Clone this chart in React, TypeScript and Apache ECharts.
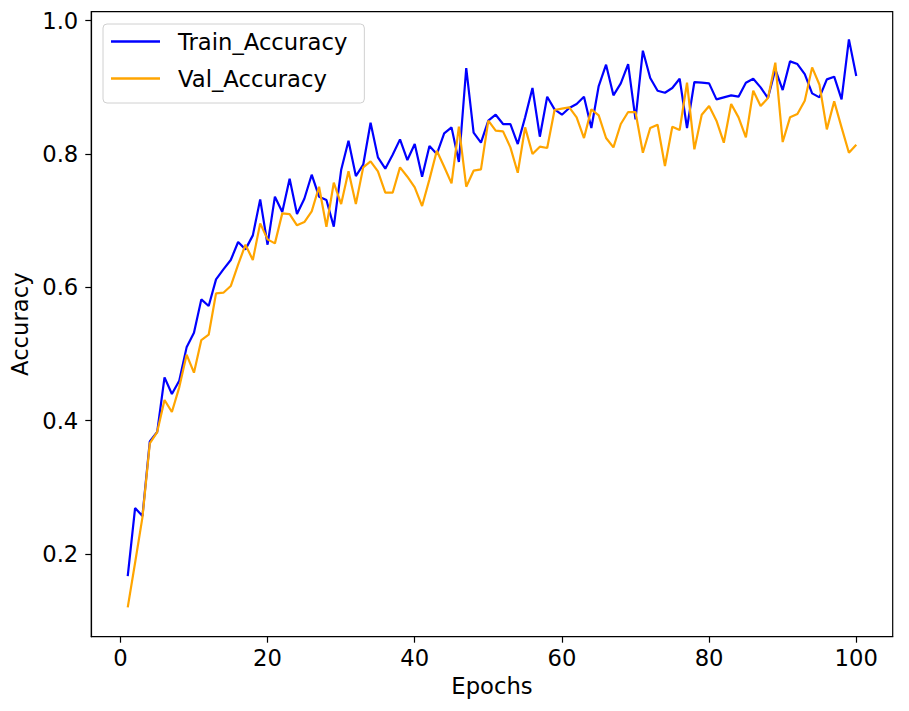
import React, { useEffect, useRef } from "react";
import * as echarts from "echarts";

const epochs: number[] = Array.from({ length: 100 }, (_, i) => i + 1);

const trainAccuracy: number[] = [
  0.167, 0.269, 0.257, 0.369, 0.383, 0.465, 0.440, 0.460, 0.510, 0.532,
  0.582, 0.572, 0.612, 0.627, 0.641, 0.668, 0.657, 0.678, 0.732, 0.664,
  0.736, 0.713, 0.763, 0.710, 0.733, 0.769, 0.736, 0.731, 0.691, 0.776,
  0.820, 0.767, 0.784, 0.847, 0.795, 0.778, 0.799, 0.822, 0.791, 0.815,
  0.766, 0.812, 0.800, 0.831, 0.840, 0.788, 0.929, 0.832, 0.817, 0.850,
  0.859, 0.845, 0.845, 0.815, 0.855, 0.899, 0.826, 0.886, 0.867, 0.859,
  0.869, 0.875, 0.886, 0.839, 0.902, 0.934, 0.888, 0.906, 0.935, 0.852,
  0.955, 0.914, 0.895, 0.892, 0.899, 0.913, 0.839, 0.908, 0.907, 0.906,
  0.882, 0.885, 0.888, 0.886, 0.907, 0.913, 0.900, 0.884, 0.927, 0.896,
  0.939, 0.935, 0.920, 0.891, 0.885, 0.912, 0.916, 0.882, 0.972, 0.917,
];

const valAccuracy: number[] = [
  0.120, 0.187, 0.255, 0.366, 0.383, 0.431, 0.413, 0.450, 0.499, 0.472,
  0.521, 0.529, 0.591, 0.592, 0.602, 0.634, 0.664, 0.641, 0.696, 0.672,
  0.666, 0.711, 0.710, 0.693, 0.698, 0.714, 0.751, 0.691, 0.757, 0.725,
  0.774, 0.725, 0.780, 0.789, 0.774, 0.742, 0.742, 0.780, 0.766, 0.750,
  0.722, 0.762, 0.805, 0.781, 0.756, 0.841, 0.751, 0.775, 0.777, 0.850,
  0.835, 0.834, 0.810, 0.772, 0.840, 0.800, 0.811, 0.809, 0.866, 0.868,
  0.870, 0.855, 0.824, 0.867, 0.858, 0.824, 0.810, 0.845, 0.863, 0.863,
  0.802, 0.839, 0.844, 0.782, 0.841, 0.836, 0.907, 0.807, 0.859, 0.872,
  0.850, 0.817, 0.875, 0.855, 0.825, 0.895, 0.872, 0.884, 0.937, 0.818,
  0.855, 0.860, 0.880, 0.930, 0.904, 0.837, 0.879, 0.840, 0.802, 0.814,
];

const xTicks: number[] = [0, 20, 40, 60, 80, 100];
const yTicks: number[] = [0.2, 0.4, 0.6, 0.8, 1.0];

const FONT = "DejaVu Sans";

export default function App() {
  const ref = useRef<HTMLDivElement>(null);

  useEffect(() => {
    if (!ref.current) return;
    const chart = echarts.init(ref.current, undefined, { renderer: "svg" });
    const textBase = { fontFamily: FONT, fontSize: 22.7, color: "#000" };
    chart.setOption({
      animation: false,
      backgroundColor: "#fff",
      grid: {
        show: true,
        left: 91.3,
        top: 11.7,
        right: 16.3,
        bottom: 74.3,
        borderColor: "#000",
        borderWidth: 1.2,
        backgroundColor: "transparent",
      },
      legend: {
        orient: "vertical",
        left: 103,
        top: 24,
        icon: "rect",
        itemWidth: 49,
        itemHeight: 2.5,
        itemGap: 14,
        padding: [6, 17, 13, 8],
        borderColor: "#d0d0d0",
        borderWidth: 1,
        borderRadius: 4,
        backgroundColor: "rgba(255,255,255,0.8)",
        textStyle: { ...textBase, padding: [0, 0, 0, 13] },
        data: ["Train_Accuracy", "Val_Accuracy"],
      },
      xAxis: {
        type: "value",
        min: -3.95,
        max: 104.95,
        name: "Epochs",
        nameLocation: "middle",
        nameGap: 38,
        nameTextStyle: textBase,
        axisLine: { show: true, onZero: false, lineStyle: { color: "#000", width: 1.2 } },
        axisTick: { show: true, length: 6, lineStyle: { color: "#000", width: 1.2 }, customValues: xTicks },
        axisLabel: { ...textBase, margin: 10, customValues: xTicks, formatter: (v: number) => String(v) },
        splitLine: { show: false },
      },
      yAxis: {
        type: "value",
        min: 0.076,
        max: 1.0135,
        name: "Accuracy",
        nameLocation: "middle",
        nameGap: 55,
        nameTextStyle: textBase,
        axisLine: { show: true, onZero: false, lineStyle: { color: "#000", width: 1.2 } },
        axisTick: { show: true, length: 6, lineStyle: { color: "#000", width: 1.2 }, customValues: yTicks },
        axisLabel: { ...textBase, margin: 13, customValues: yTicks, formatter: (v: number) => v.toFixed(1) },
        splitLine: { show: false },
      },
      series: [
        {
          name: "Train_Accuracy",
          type: "line",
          showSymbol: false,
          symbol: "none",
          color: "#0000ff",
          lineStyle: { color: "#0000ff", width: 2.2 },
          data: epochs.map((e, i) => [e, trainAccuracy[i]]),
        },
        {
          name: "Val_Accuracy",
          type: "line",
          showSymbol: false,
          symbol: "none",
          color: "#ffa500",
          lineStyle: { color: "#ffa500", width: 2.2 },
          data: epochs.map((e, i) => [e, valAccuracy[i]]),
        },
      ],
    });
    return () => chart.dispose();
  }, []);

  return (
    <div
      ref={ref}
      style={{ position: "absolute", left: 0, top: 0, width: 909, height: 711, background: "#fff" }}
    />
  );
}
